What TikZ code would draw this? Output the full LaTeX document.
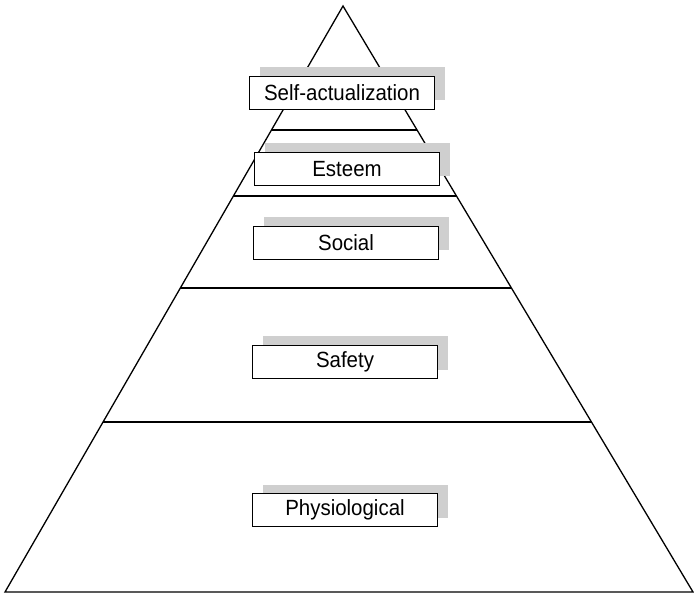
\documentclass[tikz,border=0pt]{standalone}
\usepackage{fontspec}
\setmainfont[FakeStretch=0.93]{Liberation Sans}
\usetikzlibrary{calc,shadows,positioning}

\begin{document}
\begin{tikzpicture}[x=1pt,y=-1pt,
  level/.style={draw,fill=white,line width=0.9pt,minimum width=185pt,minimum height=33pt,
    inner sep=0pt,font=\fontsize{22}{26}\selectfont,
    drop shadow={shadow xshift=10pt,shadow yshift=9pt,fill=gray!38,opacity=1}},
  edge/.style={line width=1.3pt}]

\useasboundingbox (0,0) rectangle (694,596);

% the pyramid
\coordinate (top) at (343,6);
\coordinate (bl) at (5,592);
\coordinate (br) at (693,592);
\draw[edge,line join=miter] (top) -- (bl) -- (br) -- cycle;

\foreach \i / \f in {1/0.2116,2/0.3242,3/0.4812,4/0.7099}{
  \coordinate (l\i) at ($(top)!\f!(bl)$);
  \coordinate (r\i) at ($(top)!\f!(br)$);
  \draw[edge] (l\i) -- (r\i);
}

% the levels
\def\levels{1/342/93/{Self-actualization},2/347/169/{Esteem},3/346/243/{Social},4/345/362/{Safety},5/345/510/{Physiological}}
\foreach \i / \px / \py / \name in \levels
  \node [level] (n\i) at (\px,\py) {\name};

\end{tikzpicture}
\end{document}
